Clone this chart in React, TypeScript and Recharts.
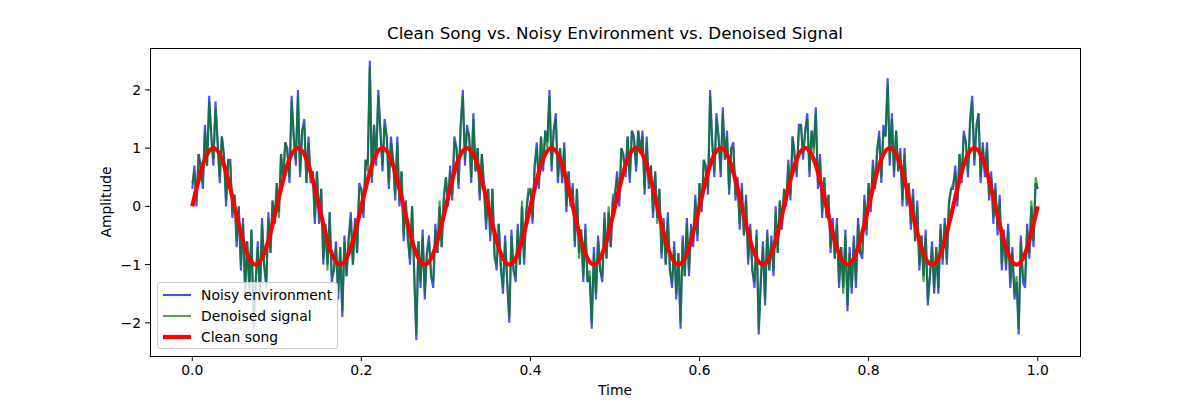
import { Line, LineChart, XAxis, YAxis } from "recharts";

// samples are evenly spaced on the time axis
const SAMPLE_STEP = 0.0025;
const CLEAN_STEP = 0.0125;

const noisyEnvironment = [
  0.3, 0.7, 0.0, 0.9, 0.7, 0.3, 1.4, 0.7, 1.9, 1.2, 0.7, 1.8, 1.1, 0.4, 1.2, 0.9, 0.0, 0.8, 0.8, -0.2,
  0.2, -0.7, 0.0, -1.1, -0.2, -1.5, -0.6, -1.4, -0.4, -2.1, -1.3, -0.6, -1.6, -0.2, -1.0, -1.4, -0.1, -0.8, 0.1, -0.3,
  0.4, -0.1, 0.9, 0.4, 1.1, 1.0, 0.4, 1.9, 1.2, 0.7, 2.0, 0.5, 1.3, 1.5, 0.4, 1.2, 0.4, 0.6, -0.3, 0.6,
  -0.3, 0.3, -1.0, -0.3, -1.0, -0.1, -1.3, -1.1, -0.6, -1.6, -0.7, -1.9, -0.5, -1.2, -0.6, -0.1, -1.0, -0.2, -0.8, 0.4,
  0.3, -0.2, 0.8, 0.7, 2.5, 0.4, 1.4, 0.7, 2.0, 1.3, 0.6, 1.5, 1.2, 0.3, 1.2, 0.8, 0.1, 1.2, 0.0, 0.6,
  -0.6, 0.1, -0.5, -1.0, 0.0, -1.1, -2.3, -0.6, -1.4, -0.4, -1.6, -0.8, -0.5, -1.2, -1.4, -0.3, -0.8, 0.0, -0.7, 0.1,
  0.5, 0.0, 0.7, 0.1, 1.2, 1.0, 0.3, 1.4, 2.0, 0.7, 1.4, 1.2, 0.4, 1.6, 0.6, 1.0, 0.1, 0.9, 0.4, -0.4,
  0.3, -0.6, 0.3, -0.8, -1.1, -0.3, -1.0, -1.5, -0.5, -1.3, -2.0, -0.4, -1.1, -1.3, -0.3, -1.0, 0.0, -1.0, -0.1, 0.2,
  0.3, -0.3, 0.7, 1.1, 0.3, 1.2, 0.6, 1.3, 1.1, 2.0, 0.6, 1.3, 1.6, 0.4, 1.0, 0.4, 1.1, -0.1, 0.6, 0.0,
  0.4, -0.7, 0.3, -0.8, -0.4, -1.3, -0.3, -1.3, -1.2, -2.1, -0.7, -1.6, -0.5, -1.1, -1.3, -0.1, -0.9, -0.1, -0.7, 0.1,
  0.2, 0.6, 0.0, 1.0, 0.9, 0.5, 1.2, 0.4, 1.3, 1.2, 0.6, 1.3, 0.9, 1.3, 0.2, 1.2, 0.3, 0.7, -0.2, 0.6,
  -0.2, 0.3, -0.9, -0.2, -1.0, -0.1, -1.1, -1.4, -0.6, -1.6, -0.8, -2.1, -0.5, -1.2, -0.2, -1.2, -0.3, -0.7, 0.2, -0.6,
  0.4, -0.1, 0.8, 0.7, 0.2, 2.0, 1.1, 0.5, 1.6, 1.2, 0.5, 1.7, 0.8, 1.3, 0.2, 1.0, 1.1, 0.1, 0.5, -0.4,
  0.4, -0.5, 0.2, -1.0, -0.3, -1.1, -1.4, -0.4, -2.2, -1.3, -0.6, -1.7, -0.4, -1.1, -0.5, -1.2, 0.0, -0.8, 0.1, -0.4,
  0.3, 0.0, 0.8, 0.1, 1.2, 0.9, 0.5, 1.4, 1.4, 0.8, 1.3, 1.6, 0.5, 1.3, 1.0, 1.7, 0.3, 0.9, -0.2, 0.5,
  -0.2, 0.2, -0.8, -0.2, -0.9, -0.2, -1.4, -0.7, -1.4, -0.4, -1.8, -0.7, -1.5, -0.5, -1.4, -0.2, -0.8, -0.9, 0.2, -0.5,
  0.4, -0.1, 0.8, 0.3, 0.9, 1.3, 0.4, 1.4, 1.2, 2.2, 0.7, 1.6, 0.5, 1.3, 0.6, 1.0, 0.0, 1.0, 0.0, 0.4,
  -0.4, 0.3, -0.6, 0.1, -1.1, -0.5, -1.2, -0.4, -1.7, -1.2, -0.6, -1.5, -0.7, -1.5, -0.3, -1.0, -0.2, -1.0, 0.0, 0.3,
  0.3, 0.7, 0.0, 0.9, 0.4, 1.3, 1.1, 0.5, 1.5, 1.9, 0.7, 1.4, 1.6, 0.4, 1.1, 0.5, 1.1, 0.1, 0.6, -0.3,
  0.4, -0.5, 0.2, -1.1, -0.4, -1.1, -0.3, -1.4, -0.7, -1.6, -1.3, -2.2, -0.5, -1.3, -1.4, -0.3, -0.9, 0.0, -0.7, 0.4,
  0.3,
];

const denoisedSignal = [
  0.4, 0.6, 0.1, 0.9, 0.6, 0.4, 1.3, 0.7, 1.8, 1.2, 0.8, 1.7, 1.1, 0.5, 1.2, 0.8, 0.1, 0.8, 0.7, -0.1,
  0.2, -0.6, 0.0, -1.0, -0.3, -1.4, -0.6, -1.5, -0.4, -2.0, -1.3, -0.7, -1.5, -0.3, -1.0, -1.3, -0.2, -0.8, 0.1, -0.2,
  0.4, -0.2, 0.9, 0.5, 1.1, 0.9, 0.5, 1.8, 1.2, 0.8, 1.9, 0.6, 1.3, 1.4, 0.4, 1.1, 0.5, 0.6, -0.2, 0.6,
  -0.2, 0.3, -0.9, -0.3, -1.1, -0.1, -1.2, -1.1, -0.7, -1.5, -0.7, -1.8, -0.6, -1.2, -0.5, -0.2, -1.0, -0.3, -0.8, 0.3,
  0.3, -0.1, 0.8, 0.6, 2.4, 0.5, 1.4, 0.8, 1.9, 1.3, 0.7, 1.4, 1.2, 0.4, 1.1, 0.8, 0.2, 1.1, 0.1, 0.6,
  -0.5, 0.1, -0.6, -0.9, 0.0, -1.2, -2.2, -0.6, -1.3, -0.5, -1.5, -0.8, -0.6, -1.2, -1.3, -0.4, -0.8, 0.1, -0.7, 0.2,
  0.5, 0.1, 0.6, 0.2, 1.1, 1.0, 0.4, 1.4, 1.9, 0.8, 1.3, 1.2, 0.5, 1.5, 0.6, 1.0, 0.2, 0.9, 0.3, -0.3,
  0.3, -0.5, 0.3, -0.9, -1.0, -0.3, -1.1, -1.4, -0.6, -1.3, -1.9, -0.5, -1.1, -1.2, -0.4, -1.0, 0.1, -0.9, -0.1, 0.3,
  0.3, -0.2, 0.7, 1.0, 0.4, 1.2, 0.7, 1.3, 1.0, 1.9, 0.7, 1.3, 1.5, 0.5, 1.0, 0.5, 1.0, 0.0, 0.6, 0.1,
  0.3, -0.6, 0.3, -0.9, -0.4, -1.2, -0.4, -1.3, -1.1, -2.0, -0.8, -1.5, -0.6, -1.1, -1.2, -0.2, -0.9, 0.0, -0.7, 0.2,
  0.2, 0.5, 0.1, 1.0, 0.8, 0.6, 1.2, 0.5, 1.3, 1.1, 0.7, 1.3, 0.9, 1.2, 0.3, 1.1, 0.4, 0.7, -0.1, 0.6,
  -0.3, 0.3, -0.8, -0.3, -1.0, -0.2, -1.1, -1.3, -0.7, -1.5, -0.8, -2.0, -0.6, -1.2, -0.3, -1.1, -0.4, -0.6, 0.1, -0.5,
  0.4, 0.0, 0.8, 0.6, 0.3, 1.9, 1.1, 0.6, 1.5, 1.2, 0.6, 1.6, 0.8, 1.2, 0.3, 1.0, 1.0, 0.2, 0.4, -0.3,
  0.3, -0.5, 0.1, -0.9, -0.4, -1.1, -1.3, -0.5, -2.1, -1.2, -0.7, -1.6, -0.5, -1.1, -0.6, -1.1, -0.1, -0.8, 0.1, -0.3,
  0.3, 0.1, 0.7, 0.2, 1.2, 0.8, 0.6, 1.3, 1.4, 0.9, 1.3, 1.5, 0.6, 1.3, 0.9, 1.6, 0.4, 0.8, -0.1, 0.5,
  -0.1, 0.2, -0.7, -0.3, -0.9, -0.3, -1.3, -0.7, -1.5, -0.5, -1.7, -0.8, -1.4, -0.6, -1.3, -0.3, -0.8, -0.8, 0.1, -0.4,
  0.4, 0.0, 0.7, 0.3, 1.0, 1.2, 0.5, 1.3, 1.2, 2.1, 0.8, 1.5, 0.6, 1.3, 0.6, 0.9, 0.1, 0.9, 0.1, 0.4,
  -0.3, 0.2, -0.6, 0.0, -1.0, -0.5, -1.3, -0.5, -1.6, -1.2, -0.7, -1.4, -0.7, -1.4, -0.4, -0.9, -0.3, -0.9, 0.1, 0.3,
  0.4, 0.6, 0.1, 0.9, 0.5, 1.2, 1.1, 0.6, 1.4, 1.8, 0.8, 1.3, 1.6, 0.5, 1.0, 0.6, 1.0, 0.2, 0.5, -0.2,
  0.3, -0.4, 0.1, -1.0, -0.5, -1.0, -0.4, -1.3, -0.8, -1.5, -1.2, -2.1, -0.6, -1.2, -1.3, -0.4, -0.8, 0.1, -0.6, 0.5,
  0.3,
];

const cleanSong = [
  0, 0.71, 1, 0.71, 0, -0.71, -1, -0.71,
  0, 0.71, 1, 0.71, 0, -0.71, -1, -0.71,
  0, 0.71, 1, 0.71, 0, -0.71, -1, -0.71,
  0, 0.71, 1, 0.71, 0, -0.71, -1, -0.71,
  0, 0.71, 1, 0.71, 0, -0.71, -1, -0.71,
  0, 0.71, 1, 0.71, 0, -0.71, -1, -0.71,
  0, 0.71, 1, 0.71, 0, -0.71, -1, -0.71,
  0, 0.71, 1, 0.71, 0, -0.71, -1, -0.71,
  0, 0.71, 1, 0.71, 0, -0.71, -1, -0.71,
  0, 0.71, 1, 0.71, 0, -0.71, -1, -0.71,
  0,
];

const xTicks = [0, 0.2, 0.4, 0.6, 0.8, 1.0];
const yTicks = [-2, -1, 0, 1, 2];

const legendItems = [
  { label: "Noisy environment", color: "#0000ff", opacity: 0.7, width: 2.1 },
  { label: "Denoised signal", color: "#008000", opacity: 0.7, width: 2.1 },
  { label: "Clean song", color: "#ff0000", opacity: 1, width: 4.2 },
];

const noisyData = noisyEnvironment.map((v, i) => ({ t: i * SAMPLE_STEP, v }));
const denoisedData = denoisedSignal.map((v, i) => ({ t: i * SAMPLE_STEP, v }));
const cleanData = cleanSong.map((v, i) => ({ t: i * CLEAN_STEP, v }));

const FONT = "'DejaVu Sans', sans-serif";
const tickStyle = { fill: "#000", fontSize: 13.9, fontFamily: FONT };

function fmtY(v: number) {
  return v < 0 ? `\u2212${Math.abs(v)}` : String(v);
}

function MplLegend() {
  return (
    <div
      style={{
        position: "absolute",
        left: 157,
        top: 282,
        width: 181,
        height: 67,
        boxSizing: "border-box",
        border: "1px solid #cccccc",
        borderRadius: 3,
        background: "rgba(255,255,255,0.8)",
        fontFamily: FONT,
        fontSize: 13.9,
        color: "#000",
      }}
    >
      {legendItems.map((item, i) => (
        <div key={item.label} style={{ position: "absolute", left: 0, top: 2 + i * 21, height: 20, width: 181 }}>
          <svg width={40} height={20} style={{ position: "absolute", left: 0, top: 0 }}>
            <line
              x1={5}
              x2={33}
              y1={10}
              y2={10}
              stroke={item.color}
              strokeOpacity={item.opacity}
              strokeWidth={item.width}
            />
          </svg>
          <span style={{ position: "absolute", left: 43, top: 1, whiteSpace: "nowrap", lineHeight: "18px" }}>
            {item.label}
          </span>
        </div>
      ))}
    </div>
  );
}

export default function App() {
  return (
    <div style={{ position: "absolute", left: 0, top: 0, width: 1200, height: 400, background: "#fff" }}>
      <LineChart width={1200} height={400} margin={{ top: 48, right: 120, bottom: 0, left: 0 }}>
        <XAxis
          type="number"
          dataKey="t"
          domain={[-0.05, 1.05]}
          ticks={xTicks}
          allowDataOverflow
          axisLine={false}
          tickLine={{ stroke: "#000" }}
          tickSize={5}
          tickMargin={4}
          height={44}
          tick={tickStyle}
          tickFormatter={(v: number) => v.toFixed(1)}
        />
        <YAxis
          type="number"
          domain={[-2.57, 2.72]}
          ticks={yTicks}
          allowDataOverflow
          axisLine={false}
          tickLine={{ stroke: "#000" }}
          tickSize={5}
          tickMargin={4}
          width={150}
          tick={tickStyle}
          tickFormatter={fmtY}
        />
        <Line
          data={noisyData}
          dataKey="v"
          type="linear"
          stroke="#0000ff"
          strokeOpacity={0.7}
          strokeWidth={2.1}
          dot={false}
          isAnimationActive={false}
          name="Noisy environment"
        />
        <Line
          data={denoisedData}
          dataKey="v"
          type="linear"
          stroke="#008000"
          strokeOpacity={0.7}
          strokeWidth={2.1}
          dot={false}
          isAnimationActive={false}
          name="Denoised signal"
        />
        <Line
          data={cleanData}
          dataKey="v"
          type="natural"
          stroke="#ff0000"
          strokeWidth={4.2}
          dot={false}
          isAnimationActive={false}
          name="Clean song"
        />
      </LineChart>
      <MplLegend />
      {/* axes frame */}
      <div
        style={{
          position: "absolute",
          left: 150,
          top: 48,
          width: 931,
          height: 309,
          boxSizing: "border-box",
          border: "1px solid #000",
          pointerEvents: "none",
        }}
      />
      <div
        style={{
          position: "absolute",
          left: 150,
          width: 930,
          top: 23,
          textAlign: "center",
          fontFamily: FONT,
          fontSize: 16.7,
          color: "#000",
        }}
      >
        Clean Song vs. Noisy Environment vs. Denoised Signal
      </div>
      <div
        style={{
          position: "absolute",
          left: 150,
          width: 930,
          top: 382,
          textAlign: "center",
          fontFamily: FONT,
          fontSize: 13.9,
          color: "#000",
        }}
      >
        Time
      </div>
      <div
        style={{
          position: "absolute",
          left: 106,
          top: 202,
          transform: "translate(-50%, -50%) rotate(-90deg)",
          fontFamily: FONT,
          fontSize: 13.9,
          color: "#000",
          whiteSpace: "nowrap",
        }}
      >
        Amplitude
      </div>
    </div>
  );
}
